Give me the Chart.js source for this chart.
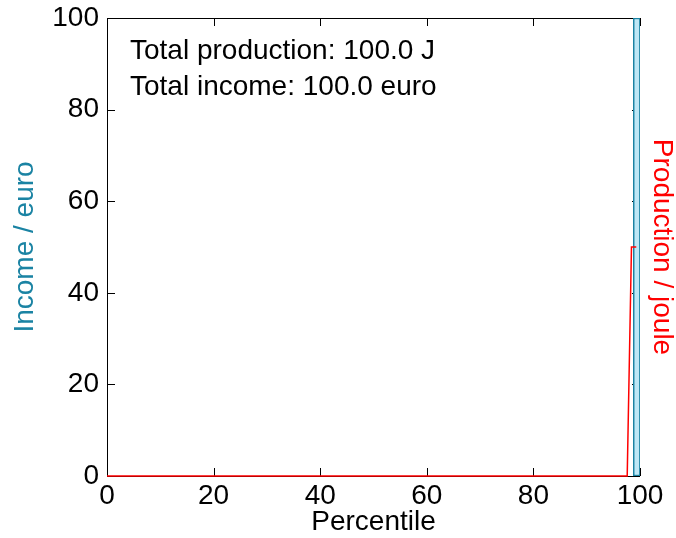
<!DOCTYPE html>
<html>
<head>
<meta charset="utf-8">
<script src="https://cdn.jsdelivr.net/npm/chart.js@4"></script>
<style>
  html, body { margin: 0; padding: 0; background: #fff; }
</style>
</head>
<body>
<canvas id="chart" width="676" height="538"></canvas>
<script>
// --- data ---
const incomePercentiles = [99.4];
const incomeValues = [100];
const productionPercentiles = [0, 97.6, 98.4, 99.3];
const productionValues = [0, 0, 50, 50];
const tickValues = [0, 20, 40, 60, 80, 100];
const infoLines = ['Total production: 100.0 J', 'Total income: 100.0 euro'];

const FONT = '"Liberation Sans", Arial, sans-serif';
const FONT_SIZE = 28;
const INCOME_COLOR = '#1a83a3';
const PROD_COLOR = '#ff0000';

// frame + inward ticks on all four sides (under the data), info text on top
const framePlugin = {
  id: 'frame',
  beforeDatasetsDraw(chart) {
    const { ctx, chartArea: a, scales } = chart;
    ctx.save();
    ctx.strokeStyle = '#000';
    ctx.lineWidth = 1;
    ctx.beginPath();
    tickValues.forEach(v => {
      const x = Math.round(scales.x.getPixelForValue(v)) + 0.5;
      ctx.moveTo(x, a.bottom); ctx.lineTo(x, a.bottom - 8);
      ctx.moveTo(x, a.top); ctx.lineTo(x, a.top + 8);
      const y = Math.round(scales.y.getPixelForValue(v)) + 0.5;
      ctx.moveTo(a.left, y); ctx.lineTo(a.left + 8, y);
      ctx.moveTo(a.right, y); ctx.lineTo(a.right - 8, y);
    });
    ctx.stroke();
    ctx.strokeRect(a.left + 0.5, a.top + 0.5, a.right - a.left - 1, a.bottom - a.top);
    ctx.restore();
  },
  afterDatasetsDraw(chart) {
    const { ctx, chartArea: a } = chart;
    ctx.save();
    ctx.fillStyle = '#000';
    ctx.font = FONT_SIZE + 'px ' + FONT;
    ctx.textBaseline = 'middle';
    infoLines.forEach((t, i) => ctx.fillText(t, a.left + 23, a.top + 33 + i * 36));
    ctx.restore();
  }
};

const noPad = s => { s.paddingTop = 0; s.paddingBottom = 0; };

new Chart(document.getElementById('chart').getContext('2d'), {
  data: {
    datasets: [
      {
        type: 'bar',
        label: 'Income',
        data: incomePercentiles.map((p, i) => ({ x: p, y: incomeValues[i] })),
        backgroundColor: '#bde7f6',
        borderColor: INCOME_COLOR,
        borderWidth: 1.5,
        borderSkipped: false,
        barThickness: 7,
        yAxisID: 'y',
        order: 1
      },
      {
        type: 'line',
        label: 'Production',
        data: productionPercentiles.map((p, i) => ({ x: p, y: productionValues[i] })),
        borderColor: PROD_COLOR,
        borderWidth: 1.5,
        pointRadius: 0,
        tension: 0,
        clip: false,
        yAxisID: 'y2',
        order: 0
      }
    ]
  },
  options: {
    responsive: false,
    animation: false,
    layout: { padding: { top: 18, left: 0, right: 0, bottom: 0 } },
    plugins: {
      legend: { display: false },
      tooltip: { enabled: false }
    },
    scales: {
      x: {
        type: 'linear',
        min: 0,
        max: 100,
        offset: false,
        afterBuildTicks: s => { s.ticks = tickValues.map(v => ({ value: v })); },
        afterFit: s => { s.height = 62; s.paddingLeft = 0; s.paddingRight = 0; },
        grid: { display: false, drawTicks: false, offset: false },
        border: { display: false },
        ticks: { color: '#000', font: { family: FONT, size: FONT_SIZE }, padding: 3, maxRotation: 0 },
        title: { display: true, text: 'Percentile', color: '#000', font: { family: FONT, size: FONT_SIZE, lineHeight: 1 }, padding: { top: 0, bottom: 2 } }
      },
      y: {
        position: 'left',
        min: 0,
        max: 100,
        afterBuildTicks: s => { s.ticks = tickValues.map(v => ({ value: v })); },
        afterFit: s => { s.width = 107; noPad(s); },
        grid: { display: false, drawTicks: false },
        border: { display: false },
        ticks: { color: '#000', font: { family: FONT, size: FONT_SIZE }, padding: 8 },
        title: { display: true, text: 'Income / euro', color: INCOME_COLOR, font: { family: FONT, size: FONT_SIZE, lineHeight: 1 }, padding: { top: 11, bottom: 0 } }
      },
      y2: {
        position: 'right',
        min: 0,
        max: 100,
        afterFit: s => { s.width = 36; noPad(s); },
        grid: { display: false, drawTicks: false },
        border: { display: false },
        ticks: { display: false },
        title: { display: true, text: 'Production / joule', color: PROD_COLOR, font: { family: FONT, size: FONT_SIZE, lineHeight: 1 }, padding: { top: 0, bottom: 0 } }
      }
    }
  },
  plugins: [framePlugin]
});
</script>
</body>
</html>
